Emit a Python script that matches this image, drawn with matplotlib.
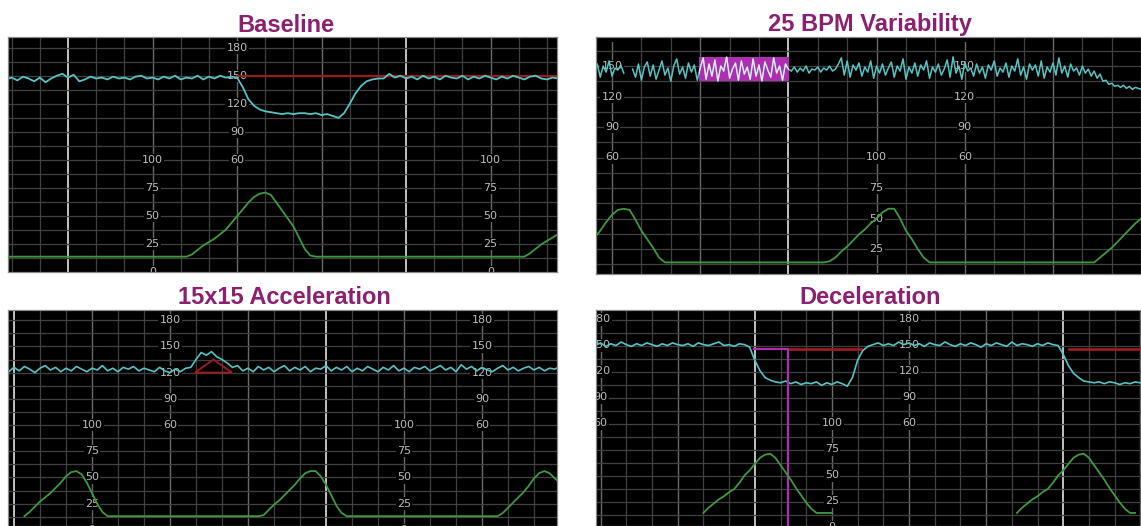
import numpy as np
import matplotlib
matplotlib.use("Agg")
import matplotlib.pyplot as plt
from matplotlib.patches import Rectangle, Polygon

nan = np.nan

# ---------------- data ----------------
TITLES = ["Baseline", "25 BPM Variability", "15x15 Acceleration", "Deceleration"]

FHR_LABELS = ["180", "150", "120", "90", "60"]
FHR_LABEL_VALUES = [180, 150, 120, 90, 60]
UC_LABELS = ["100", "75", "50", "25", "0"]
UC_LABEL_VALUES = [100, 75, 50, 25, 0]

# Panel 1 - Baseline (samples every 2 s starting at -2 s)
P1_T0, P1_STEP = -2, 2
P1_FHR = [146,148,145,149,147,144,148,143,147,150,
          152,148,151,144,146,149,147,148,146,149,
          147,148,146,149,150,147,148,146,149,147,
          150,146,148,147,150,146,149,147,150,148,
          149,
          148,138,125,118,114,112,111,110,109,110,
          109,110,110,109,110,108,109,107,105,110,
          120,131,139,144,146,147,147,152,148,150,
          147,149,146,150,147,149,146,150,148,147,
          150,146,149,147,150,148,146,149,147,150,
          148,146,149,150,147,146,148,147]
P1_UC = [14,14,14,14,14,14,14,14,14,14,
         14,14,14,14,14,14,14,14,14,14,
         14,14,14,14,14,14,14,14,14,14,
         14,14,14,
         16,20,24,27,30,34,38,44,50,56,
         62,67,70,71,69,62,55,48,41,31,
         21,15,
         14,14,14,14,14,14,14,14,14,14,
         14,14,14,14,14,14,14,14,14,14,
         14,14,14,14,14,14,14,14,14,14,
         14,14,14,14,14,14,14,14,
         17,21,25,28,31,34]
P1_RED_LEVEL = 150
P1_RED_START = 80

# Panel 2 - 25 BPM variability (FHR every 1 s from -6 s, UC every 2 s from -6 s)
P2_T0, P2_FHR_STEP, P2_UC_STEP = -6, 1, 2
P2_FHR = [141,152,139,150,144,155,140,148,146,151,
          143,nan,nan,147,139,152,136,149,154,140,
          151,137,146,155,141,148,135,150,157,142,
          149,138,153,144,151,136,148,158,137,152,
          140,156,135,150,145,159,138,147,153,136,
          155,142,149,137,157,140,151,135,154,146,
          139,158,143,150,136,152,147,145,149,144,
          148,145,150,143,147,146,149,144,148,146,
          150,145,147,152,158,141,155,139,151,146,
          153,140,149,144,155,138,150,143,152,141,
          148,154,139,150,145,157,137,149,143,153,
          140,151,146,155,138,149,144,152,141,147,
          156,139,159,143,150,137,154,145,148,140,
          152,143,149,138,151,146,155,140,148,144,
          153,139,150,145,157,141,149,137,152,146,
          151,140,155,138,149,144,153,141,158,143,
          150,139,152,145,148,141,150,143,147,140,
          145,138,142,135,136,132,133,130,131,129,
          131,128,130,127,129,128,127]
P2_UC = [34,40,47,53,57,58,57,49,40,33,26,18,14,
         14,14,14,14,14,14,14,14,14,14,14,14,14,14,14,14,14,14,14,14,14,14,14,14,14,14,14,
         15,18,23,27,32,37,41,46,50,55,58,58,50,40,33,25,18,14,
         14,14,14,14,14,14,14,14,14,14,14,14,14,14,14,14,14,14,14,14,14,14,14,14,14,14,14,14,
         18,22,26,31,36,41,46,50]
P2_BOX_T = [29.6, 60.2]
P2_BOX_FHR = [135, 159]

# Panel 3 - 15x15 acceleration (samples every 2 s starting at -4 s)
P3_T0, P3_STEP = -4, 2
P3_FHR = [124,121,126,122,127,124,120,125,128,123,
          126,121,125,122,127,124,121,125,123,128,
          122,125,121,126,124,127,122,125,123,121,
          126,122,120,124,121,125,126,135,143,140,
          144,138,135,131,126,128,122,125,121,127,
          123,126,121,125,128,122,126,123,127,121,
          125,124,128,122,126,123,127,121,125,122,
          127,124,121,126,123,128,122,125,121,126,
          124,127,122,125,128,123,126,121,129,124,
          127,122,126,123,121,125,128,123,126,122,
          125,127,123,126,122,125,124,127]
P3_UC = [nan,nan,nan,nan,13,17,22,27,31,35,
         40,45,51,55,56,53,45,35,25,17,
         13,
         13,13,13,13,13,13,13,13,13,13,13,13,13,13,13,13,13,13,13,13,13,13,13,13,13,13,13,13,13,
         14,19,24,28,33,38,43,49,54,56,56,51,43,33,23,16,13,
         13,13,13,13,13,13,13,13,13,13,13,13,13,13,13,13,13,13,13,13,13,13,13,13,13,13,13,13,13,
         16,21,26,31,36,42,49,54,56,54,49,45]
P3_ACCEL_T = [69.6, 76.7, 83.8]
P3_ACCEL_FHR = [120, 135, 120]

# Panel 4 - Deceleration (samples every 2 s starting at -4 s)
P4_T0, P4_STEP = -4, 2
P4_FHR = [151,150,153,149,152,150,154,151,149,152,
          150,153,151,149,152,150,153,151,150,152,
          149,153,151,150,152,154,150,151,149,152,
          151,148,133,121,113,110,108,107,109,106,
          108,105,107,106,108,104,107,105,108,106,
          103,113,133,144,149,151,153,150,152,150,
          154,151,153,150,152,149,153,151,150,154,
          151,149,152,150,153,151,148,152,150,153,
          151,149,154,150,152,151,149,152,150,153,
          151,150,140,127,118,113,109,108,107,108,
          106,108,107,105,107,106,108,107,106]
P4_UC = [nan,nan,nan,nan,nan,nan,nan,nan,nan,nan,nan,nan,nan,nan,nan,nan,nan,nan,nan,nan,nan,nan,
         14,19,23,27,30,34,37,43,50,55,61,67,70,71,67,60,53,46,38,31,24,18,14,14,14,14,
         nan,nan,nan,nan,nan,nan,nan,nan,nan,nan,nan,nan,nan,nan,nan,nan,nan,nan,nan,nan,
         nan,nan,nan,nan,nan,nan,nan,nan,nan,nan,nan,nan,nan,nan,nan,
         14,19,23,27,30,34,37,43,50,55,61,67,70,71,67,60,53,46,38,31,24,18,14,14,nan,nan]
P4_RED_LEVEL = 146
P4_RED_SPANS = [[73.3, 101.5], [182.3, 215.0]]
P4_MARK_T = [59.7, 72.9]
P4_MARK_FHR = 146

# ---------------- layout / style ----------------
W, H = 1141, 526

PANELS = [
    dict(box=(8, 37, 557, 272), px0=11.7, pxs=2.817, y60=160, gv=28.1,
         uc_cols=[50, 170], fhr_cols=[80], bright=[20, 140], title=(286, 31.5)),
    dict(box=(596, 37, 1141, 274), px0=612, pxs=2.94, y60=157.5, gv=30.5,
         uc_cols=[90], fhr_cols=[0, 120], bright=[60], title=(870, 31.5)),
    dict(box=(8, 310, 557, 526), px0=14, pxs=2.6, y60=425, gv=26.2,
         uc_cols=[30, 150], fhr_cols=[60, 180], bright=[0, 120], title=(284, 304)),
    dict(box=(596, 310, 1141, 526), px0=600.6, pxs=2.57, y60=423.5, gv=26.0,
         uc_cols=[90], fhr_cols=[0, 120], bright=[60, 180], title=(870, 304)),
]

TITLE_COLOR = "#8b1f70"
FHR_COLOR = "#56c4c4"
UC_COLOR = "#3f9a3f"
RED = "#9a1c1c"
MAGENTA = "#b02cb0"
MINOR = "#404040"
MAJOR = "#6a6a6a"
BRIGHT = "#d0d0d0"
LABEL_COLOR = "#bdbdbd"

fig = plt.figure(figsize=(W / 100, H / 100), dpi=100)
fig.patch.set_facecolor("white")

axes = []
for i, p in enumerate(PANELS):
    l, t, r, b = p["box"]
    ax = fig.add_axes([l / W, 1 - b / H, (r - l) / W, (b - t) / H])
    ax.set_facecolor("black")
    x0 = (l - p["px0"]) / p["pxs"]
    x1 = (r - p["px0"]) / p["pxs"]
    F = lambda y: 60 + (p["y60"] - y) * 30 / p["gv"]
    U = lambda y: 100 + (p["y60"] - y) * 25 / p["gv"]
    ax.set_xlim(x0, x1)
    ax.set_ylim(F(b), F(t))
    axu = ax.twinx()
    axu.set_ylim(U(b), U(t))
    for a in (ax, axu):
        a.set_xticks([])
        a.set_yticks([])
        for s in a.spines.values():
            s.set_color("#8a8a8a")
            s.set_linewidth(0.8)

    # vertical grid
    for tt in range(-30, 240, 10):
        if tt < x0 or tt > x1:
            continue
        if tt in p["bright"]:
            c, lw = BRIGHT, 1.3
        elif (tt - p["bright"][0]) % 30 == 0:
            c, lw = MAJOR, 1.0
        else:
            c, lw = MINOR, 0.9
        ax.axvline(tt, color=c, lw=lw, zorder=1)
    # horizontal grid
    f = 60 - 15 * 12
    while f < F(t):
        if f > F(b):
            ax.axhline(f, color=MINOR, lw=0.9, zorder=1)
        f += 15

    # scale labels
    for col in p["fhr_cols"]:
        for lab, v in zip(FHR_LABELS, FHR_LABEL_VALUES):
            ax.text(col, v, lab, color=LABEL_COLOR, fontsize=8, ha="center", va="center",
                    zorder=2, clip_on=True,
                    bbox=dict(boxstyle="square,pad=0.1", fc="black", ec="none"))
    for col in p["uc_cols"]:
        for lab, v in zip(UC_LABELS, UC_LABEL_VALUES):
            axu.text(col, v, lab, color=LABEL_COLOR, fontsize=8, ha="center", va="center",
                     zorder=2, clip_on=True,
                     bbox=dict(boxstyle="square,pad=0.1", fc="black", ec="none"))

    fig.text(p["title"][0] / W, 1 - p["title"][1] / H, TITLES[i], color=TITLE_COLOR,
             fontsize=17, fontweight="bold", family="Liberation Sans",
             ha="center", va="baseline")
    axes.append((ax, axu))

# ---------------- traces ----------------
def times(t0, step, n):
    return t0 + step * np.arange(n)

# Panel 1
ax, axu = axes[0]
ax.plot([P1_RED_START, ax.get_xlim()[1]], [P1_RED_LEVEL, P1_RED_LEVEL], color=RED, lw=1.6, zorder=3)
ax.plot(times(P1_T0, P1_STEP, len(P1_FHR)), P1_FHR, color=FHR_COLOR, lw=1.3, zorder=4)
axu.plot(times(P1_T0, P1_STEP, len(P1_UC)), P1_UC, color=UC_COLOR, lw=1.3, zorder=4)

# Panel 2
ax, axu = axes[1]
rect = Rectangle((P2_BOX_T[0], P2_BOX_FHR[0]), P2_BOX_T[1] - P2_BOX_T[0],
                 P2_BOX_FHR[1] - P2_BOX_FHR[0], fc=MAGENTA, ec="none", zorder=3)
ax.add_patch(rect)
tx = times(P2_T0, P2_FHR_STEP, len(P2_FHR))
ax.plot(tx, P2_FHR, color=FHR_COLOR, lw=1.1, zorder=4)
hl, = ax.plot(tx, P2_FHR, color="#f2e6f2", lw=0.9, zorder=5)
hl.set_clip_path(rect)
axu.plot(times(P2_T0, P2_UC_STEP, len(P2_UC)), P2_UC, color=UC_COLOR, lw=1.3, zorder=4)

# Panel 3
ax, axu = axes[2]
ax.add_patch(Polygon(list(zip(P3_ACCEL_T, P3_ACCEL_FHR)), closed=True, fill=False,
                     ec=RED, lw=1.4, zorder=3))
ax.plot(times(P3_T0, P3_STEP, len(P3_FHR)), P3_FHR, color=FHR_COLOR, lw=1.2, zorder=4)
axu.plot(times(P3_T0, P3_STEP, len(P3_UC)), P3_UC, color=UC_COLOR, lw=1.3, zorder=4)

# Panel 4
ax, axu = axes[3]
for s0, s1 in P4_RED_SPANS:
    ax.plot([s0, s1], [P4_RED_LEVEL, P4_RED_LEVEL], color=RED, lw=2.0, zorder=3)
ax.plot(times(P4_T0, P4_STEP, len(P4_FHR)), P4_FHR, color=FHR_COLOR, lw=1.2, zorder=4)
ax.plot([P4_MARK_T[0], P4_MARK_T[1], P4_MARK_T[1]],
        [P4_MARK_FHR, P4_MARK_FHR, ax.get_ylim()[0] - 20], color=MAGENTA, lw=1.6, zorder=5)
axu.plot(times(P4_T0, P4_STEP, len(P4_UC)), P4_UC, color=UC_COLOR, lw=1.3, zorder=4)

fig.savefig("out.png", dpi=100, facecolor="white")
